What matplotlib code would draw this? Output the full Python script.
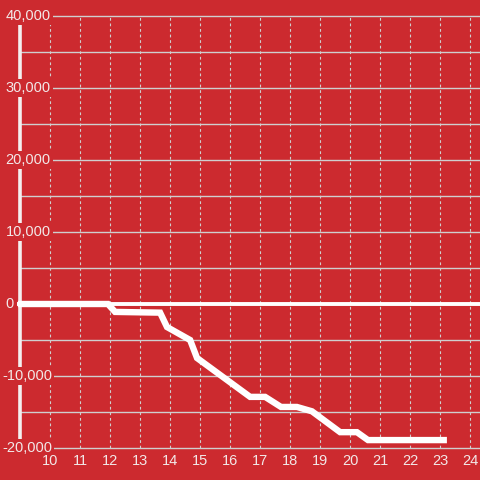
import matplotlib
matplotlib.use("Agg")
import matplotlib.pyplot as plt

# data
hours = [8.93, 11.93, 12.17, 13.67, 13.9, 14.67, 14.9, 16.67, 17.17, 17.7, 18.23,
         18.73, 19.67, 20.23, 20.6, 23.23]
balance = [0, 0, -1100, -1200, -3200, -5000, -7500, -12900, -12900, -14300, -14300,
           -14900, -17800, -17800, -18900, -18900]

x_ticks = list(range(10, 25))
y_ticks = [40000, 30000, 20000, 10000, 0, -10000, -20000]
y_grid = list(range(-20000, 40001, 5000))

bg = "#cc2a2f"
grid_col = "#cfcfcf"
text_col = "#f2e8e8"

plt.rcParams["font.family"] = ["Liberation Sans", "DejaVu Sans"]

fig = plt.figure(figsize=(4.8, 4.8), dpi=100, facecolor=bg)
ax = fig.add_axes([0, 0, 1, 1])
ax.set_facecolor(bg)
ax.set_xlim(8.333, 24.333)
ax.set_ylim(-24444, 42222)
ax.axis("off")

# grid
ax.hlines(y_grid, 9.0, 24.333, color=grid_col, linewidth=1.0, zorder=1)
ax.vlines(x_ticks, -20000, 40000, color=grid_col, linewidth=0.8,
          linestyles=(0, (2.5, 2.5)), zorder=1)

# zero line and left axis
ax.hlines(0, 8.9, 24.333, color="white", linewidth=2.8, zorder=2)
ax.vlines(9.0, -20000, 38900, color="#f4f0f0", linewidth=2.6, zorder=2)

# data line
ax.plot(hours, balance, color="white", linewidth=4.6,
        solid_joinstyle="miter", solid_capstyle="butt", zorder=3)

# tick labels
for v in y_ticks:
    x0 = 8.4 if v < 0 else 8.52
    ax.text(x0, v, f"{v:,}", ha="left", va="center", fontsize=10.5,
            color=text_col, zorder=4,
            bbox=dict(boxstyle="square,pad=0.15", facecolor=bg, edgecolor="none"))
for v in x_ticks:
    ax.text(v, -21850, str(v), ha="center", va="center", fontsize=10.5,
            color=text_col, zorder=4)

fig.savefig("out.png", dpi=100, facecolor=bg)
